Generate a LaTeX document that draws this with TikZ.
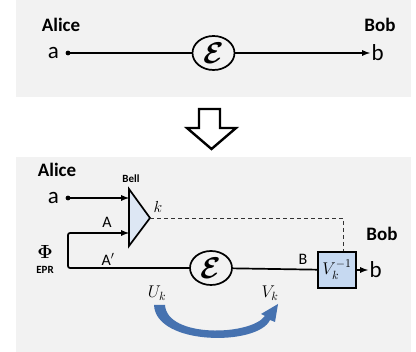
\RequirePackage{fix-cm}
\documentclass[tikz,border=0pt]{standalone}
\usepackage{fontspec}
\setmainfont{Carlito}
\usepackage{amsmath,amssymb,bm}
\usetikzlibrary{arrows.meta,positioning,shapes.geometric}
\definecolor{panelgray}{RGB}{242,242,242}
\definecolor{boxblue}{RGB}{198,217,241}
\definecolor{bellblue}{RGB}{221,231,244}
\definecolor{curveblue}{RGB}{70,114,176}
\tikzset{
  wire/.style={line width=1.7pt},
  who/.style={font=\bfseries\fontsize{19}{19}\selectfont, inner sep=0pt},
  port/.style={font=\fontsize{23}{23}\selectfont, inner sep=1pt},
  lbl/.style={font=\fontsize{16}{16}\selectfont, inner sep=0pt},
  tag/.style={font=\bfseries\fontsize{11}{11}\selectfont, inner sep=0pt},
  chan/.style={draw, line width=1.7pt, ellipse, minimum width=42pt, minimum height=34pt,
    inner sep=0pt, font=\fontsize{30}{30}\selectfont},
}

\begin{document}
\begin{tikzpicture}[x=1pt,y=-1pt,>=latex]
\useasboundingbox (0,0) rectangle (416,352);
\fill [panelgray] (16,0) rectangle (411,97);
\fill [panelgray] (16,157) rectangle (411,352);

\node [who] (alice1) at (61,25) {Alice};
\node [who] (bob1) at (380,25) {Bob};
\coordinate (adot1) at (68,53);
\fill (adot1) circle (2.4pt);
\node [port, left=8pt of adot1] (a1) {a};
\node [chan] (eps1) at (213.5,53) {$\bm{\mathcal{E}}$};
\coordinate (bend1) at (370,53);
\node [port, right=0.5pt of bend1] (b1) {b};
\draw [wire] (adot1) -- (eps1);
\draw [wire,->] (eps1) -- (bend1);

\draw [line width=2.4pt, fill=white] (199,109) -- (220,109) -- (220,128) -- (236,128)
  -- (211.5,149) -- (187,128) -- (199,128) -- cycle;

\node [who] (alice2) at (57,170) {Alice};
\node [tag] (bell) at (131,178.5) {Bell};
\coordinate (adot2) at (68,198);
\fill (adot2) circle (2.4pt);
\node [port, left=8pt of adot2] (a2) {a};
\coordinate (bellA) at (129,189);
\coordinate (bellB) at (129,246);
\coordinate (bellT) at (150,218);
\draw [wire, fill=bellblue, line join=miter] (bellA) -- (bellT) -- (bellB) -- cycle;
\draw [wire,->] (adot2) -- (adot2 -| bellA);
\node [lbl] (kout) at (158,207) {$k$};
\node [lbl] (A) at (107,222) {A};
\node [lbl] (Ap) at (108,259) {A$'$};
\node [font=\fontsize{19}{19}\selectfont, inner sep=0pt] (phi) at (45,252) {$\bm{\Phi}$};
\node [tag] (epr) at (45,270) {EPR};
\coordinate (eprtop) at (68,233);
\coordinate (eprlow) at (68,268);
\node [chan] (eps2) at (211,268) {$\bm{\mathcal{E}}$};
\draw [wire,->,rounded corners=2pt] (eps2) -- (eprlow) -- (eprtop) -- (eprtop -| bellA);
\node [draw, line width=1.7pt, fill=boxblue, minimum width=38pt, minimum height=36pt,
  inner sep=0pt, font=\fontsize{17}{17}\selectfont] (vbox) at (337,270) {$V_k^{-1}$};
\draw [wire] (eps2) -- (vbox);
\node [lbl] (B) at (303,259) {B};
\coordinate (bend2) at (368,270);
\draw [wire,->] (vbox) -- (bend2);
\node [port, right=0.5pt of bend2] (b2) {b};
\node [who] (bob2) at (382,234) {Bob};
\coordinate (kcorner) at (343,218);
\draw [line width=0.9pt, black!80, dash pattern=on 4pt off 3pt] (bellT) -- (kcorner) -- (kcorner |- vbox.north);
\node [lbl, font=\fontsize{17}{17}\selectfont] (uk) at (157,293) {$U_k$};
\node [lbl, font=\fontsize{17}{17}\selectfont] (vk) at (270,293) {$V_k$};
\fill [curveblue] (154,305) .. controls (156,346) and (258,346) .. (270,320)
  -- (275,322) -- (278,304) -- (261,314) -- (265,316)
  .. controls (250,336) and (167,338) .. (165,305) -- cycle;
\end{tikzpicture}
\end{document}
